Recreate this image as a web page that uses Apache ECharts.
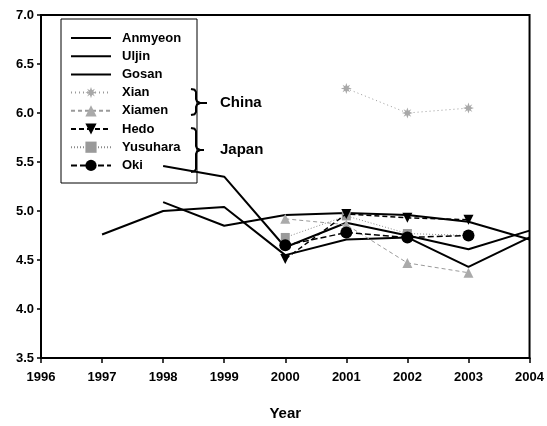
<!DOCTYPE html>
<html>
<head>
<meta charset="utf-8">
<script src="https://cdn.jsdelivr.net/npm/echarts@6/dist/echarts.min.js"></script>
<style>
html,body{margin:0;padding:0;background:#fff;}
#c{width:547px;height:426px;}
</style>
</head>
<body>
<div id="c"></div>
<script>
var years = [1997, 1998, 1999, 2000, 2001, 2002, 2003, 2004];
var anmyeon  = [4.76, 5.00, 5.04, 4.55, 4.71, 4.73, 4.43, 4.73];
var uljin    = [null, 5.46, 5.35, 4.63, 4.88, 4.75, 4.61, 4.80];
var gosan    = [null, 5.09, 4.85, 4.96, 4.98, 4.96, 4.89, 4.71];
var xian     = [null, null, null, null, 6.25, 6.00, 6.05, null];
var xiamen   = [null, null, null, 4.92, 4.86, 4.47, 4.37, null];
var hedo     = [null, null, null, 4.51, 4.97, 4.93, 4.91, null];
var yusuhara = [null, null, null, 4.73, 4.95, 4.77, 4.75, null];
var oki      = [null, null, null, 4.65, 4.78, 4.73, 4.75, null];
var seriesNames = ['Anmyeon', 'Uljin', 'Gosan', 'Xian', 'Xiamen', 'Hedo', 'Yusuhara', 'Oki'];
var xMin = 1996, xMax = 2004, yMin = 3.5, yMax = 7.0;

var FONT = '"Liberation Sans", Arial, sans-serif';
function pairs(vals) {
  return years.map(function (y, i) { return [y, vals[i]]; });
}
var starPath = 'path://M0,-10 L2,-4 L7,-7 L4,-2 L10,0 L4,2 L7,7 L2,4 L0,10 L-2,4 L-7,7 L-4,2 L-10,0 L-4,-2 L-7,-7 L-2,-4 Z';

function solid(name, vals) {
  return {
    name: name, type: 'line', data: pairs(vals), symbol: 'none',
    lineStyle: { color: '#000', width: 2, type: 'solid' },
    itemStyle: { color: '#000' }, z: 3
  };
}
var series = [
  solid('Anmyeon', anmyeon),
  solid('Uljin', uljin),
  solid('Gosan', gosan),
  { name: 'Xian', type: 'line', data: pairs(xian), symbol: starPath, symbolSize: 11,
    lineStyle: { color: '#9a9a9a', width: 1, type: [1, 3] },
    itemStyle: { color: '#a8a8a8' }, z: 4 },
  { name: 'Xiamen', type: 'line', data: pairs(xiamen), symbol: 'triangle', symbolSize: 10,
    lineStyle: { color: '#9a9a9a', width: 1, type: [4, 3] },
    itemStyle: { color: '#aaaaaa' }, z: 4 },
  { name: 'Hedo', type: 'line', data: pairs(hedo), symbol: 'triangle', symbolRotate: 180, symbolSize: 10,
    lineStyle: { color: '#000', width: 1.5, type: [5, 3] },
    itemStyle: { color: '#000' }, z: 5 },
  { name: 'Yusuhara', type: 'line', data: pairs(yusuhara), symbol: 'rect', symbolSize: 9,
    lineStyle: { color: '#8a8a8a', width: 1, type: [1, 2] },
    itemStyle: { color: '#9a9a9a' }, z: 4 },
  { name: 'Oki', type: 'line', data: pairs(oki), symbol: 'circle', symbolSize: 12,
    lineStyle: { color: '#000', width: 1.5, type: [6, 3] },
    itemStyle: { color: '#000' }, z: 6 }
];

var legendData = seriesNames.map(function (n, i) {
  return i < 3 ? { name: n, itemStyle: { opacity: 0 } } : { name: n };
});

function brace(yTop, yMid, yBot, tipX) {
  var top = [[191, yTop], [194.5, yTop + 0.7], [196, yTop + 3], [196, yMid - 4], [197, yMid - 1.5], [200, yMid], [tipX, yMid]];
  var bot = [[200, yMid], [197, yMid + 1.5], [196, yMid + 4], [196, yBot - 3], [194.5, yBot - 0.7], [191, yBot]];
  return [
    { type: 'polyline', shape: { points: top }, style: { fill: null, stroke: '#000', lineWidth: 2 }, z: 10 },
    { type: 'polyline', shape: { points: bot }, style: { fill: null, stroke: '#000', lineWidth: 2 }, z: 10 }
  ];
}

var graphics = [
  { type: 'rect', shape: { x: 61, y: 19, width: 136, height: 164 },
    style: { fill: null, stroke: '#000', lineWidth: 1 }, z: 1 },
  { type: 'text', x: 220, y: 103, style: { text: 'China', font: 'bold 15px ' + FONT, fill: '#000', verticalAlign: 'middle' }, z: 10 },
  { type: 'text', x: 220, y: 150, style: { text: 'Japan', font: 'bold 15px ' + FONT, fill: '#000', verticalAlign: 'middle' }, z: 10 }
].concat(brace(89, 103, 115, 207)).concat(brace(128, 150, 172, 204));

var chart = echarts.init(document.getElementById('c'), null, { renderer: 'canvas' });
chart.setOption({
  animation: false,
  backgroundColor: '#fff',
  textStyle: { fontFamily: FONT },
  grid: { left: 41, right: 16, top: 15, bottom: 60, show: true, borderColor: '#000', borderWidth: 2, containLabel: false },
  xAxis: {
    type: 'value', min: xMin, max: xMax, interval: 1,
    name: 'Year', nameLocation: 'middle', nameGap: 48,
    nameTextStyle: { fontFamily: FONT, fontWeight: 'bold', fontSize: 15, color: '#000' },
    axisLine: { show: true, lineStyle: { color: '#000', width: 2 } },
    axisTick: { show: true, length: 5, lineStyle: { color: '#000', width: 1.5 } },
    axisLabel: { fontFamily: FONT, fontWeight: 'bold', fontSize: 13, color: '#000', margin: 13,
      formatter: function (v) { return String(v); } },
    splitLine: { show: false }
  },
  yAxis: {
    type: 'value', min: yMin, max: yMax, interval: 0.5,
    axisLine: { show: true, lineStyle: { color: '#000', width: 2 } },
    axisTick: { show: true, length: 4, lineStyle: { color: '#000', width: 1.5 } },
    axisLabel: { fontFamily: FONT, fontWeight: 'bold', fontSize: 13, color: '#000', margin: 7,
      formatter: function (v) { return v.toFixed(1); } },
    splitLine: { show: false }
  },
  legend: {
    data: legendData,
    orient: 'vertical', left: 70, top: 31, padding: 0,
    itemWidth: 40, itemHeight: 14, itemGap: 4.2,
    textStyle: { fontFamily: FONT, fontWeight: 'bold', fontSize: 13, color: '#000', lineHeight: 14, padding: [0, 0, 0, 6] },
    selectedMode: false
  },
  graphic: graphics,
  series: series
});
</script>
</body>
</html>
